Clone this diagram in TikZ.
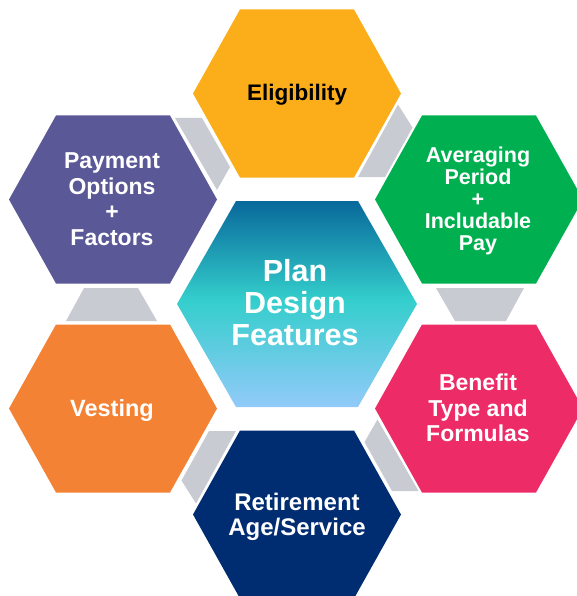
\documentclass[tikz,border=0pt]{standalone}
\usepackage{fontspec}
\setmainfont{Liberation Sans}
\definecolor{eligC}{RGB}{251,174,25}
\definecolor{greenC}{RGB}{0,176,80}
\definecolor{pinkC}{RGB}{237,44,103}
\definecolor{navyC}{RGB}{0,45,114}
\definecolor{vestC}{RGB}{243,130,52}
\definecolor{purpC}{RGB}{91,88,151}
\definecolor{connGray}{RGB}{201,203,211}
\definecolor{ctrTop}{RGB}{8,104,154}
\definecolor{ctrMid}{RGB}{52,206,204}
\definecolor{ctrBot}{RGB}{146,202,249}
\pgfdeclareverticalshading{ctrshade}{100bp}{color(0bp)=(ctrBot); color(25bp)=(ctrBot); color(51bp)=(ctrMid); color(75bp)=(ctrTop); color(100bp)=(ctrTop)}
% #1 style, #2 cx, #3 cy, #4 half width, #5 half top edge, #6 half height
\newcommand\hexshape[6]{%
  \path[#1] ({#2-#4},#3) -- ({#2-#5},{#3-#6}) -- ({#2+#5},{#3-#6}) -- ({#2+#4},#3)
    -- ({#2+#5},{#3+#6}) -- ({#2-#5},{#3+#6}) -- cycle;}
\begin{document}
\begin{tikzpicture}[x=1pt,y=-1pt,
  hexlabel/.style={align=center, inner sep=0pt, text=white},
  conn/.style={fill=connGray},
]
\useasboundingbox (0,0) rectangle (577,596);
\clip (0,0) rectangle (577,596);
% connectors
\fill[conn] (358,177) -- (398,104.5) -- (412.5,127.5) -- (385,177) -- cycle;
\fill[conn] (436,288) -- (524,288) -- (506,321) -- (455,321) -- cycle;
\fill[conn] (377.5,419.5) -- (364.5,442) -- (392,491) -- (418.5,491) -- cycle;
\fill[conn] (209,431) -- (236,431) -- (196,503.5) -- (181.5,480.5) -- cycle;
\fill[conn] (84,288) -- (138,288) -- (157,321) -- (66,321) -- cycle;
\fill[conn] (175,118) -- (202,118) -- (230,167) -- (217,190) -- cycle;
% hexagons
\hexshape{fill=eligC}{297}{93.5}{104}{57}{84}
\hexshape{fill=greenC}{479}{199.5}{104}{57}{84}
\hexshape{fill=pinkC}{479}{408.5}{104}{57}{84}
\hexshape{fill=navyC}{297}{514.5}{104}{57}{84}
\hexshape{fill=vestC}{113}{408.5}{104}{57}{84}
\hexshape{fill=purpC}{113}{199.5}{104}{57}{84}
\hexshape{shading=ctrshade}{297}{304}{120}{61}{103}
% labels
\node[hexlabel, text=black, font=\bfseries\fontsize{22.5}{25}\selectfont] (elig) at (297,94.5) {Eligibility};
\node[hexlabel, font=\bfseries\fontsize{21.5}{22.2}\selectfont] (avg) at (478,201) {Averaging\\Period\\+\\Includable\\Pay};
\node[hexlabel, font=\bfseries\fontsize{23}{25.5}\selectfont] (ben) at (478,408) {Benefit\\Type and\\Formulas};
\node[hexlabel, font=\bfseries\fontsize{24}{25}\selectfont] (ret) at (297,516.5) {Retirement\\Age/Service};
\node[hexlabel, font=\bfseries\fontsize{23.5}{25}\selectfont] (vest) at (112,410.5) {Vesting};
\node[hexlabel, font=\bfseries\fontsize{23}{25.6}\selectfont] (pay) at (112,199) {Payment\\Options\\+\\Factors};
\node[hexlabel, font=\bfseries\fontsize{30.5}{31.7}\selectfont] (ctr) at (295,302.5) {Plan\\Design\\Features};
\end{tikzpicture}
\end{document}
